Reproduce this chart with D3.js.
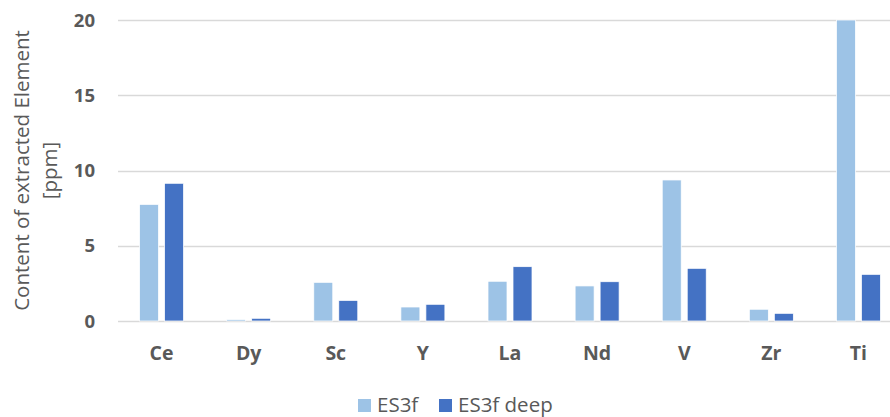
<!DOCTYPE html>
<html lang="en">
<head>
<meta charset="UTF-8">
<title>Extracted elements</title>
<script src="https://cdn.jsdelivr.net/npm/d3@7/dist/d3.min.js"></script>
<style>
    * { margin: 0; padding: 0; }
    body { background: #fff; }
    text { font-family: "Open Sans", sans-serif; fill: #595959; }
</style>
</head>
<body>
<script>
    const width = 890
    const height = 417

    // data
    const categories = ['Ce', 'Dy', 'Sc', 'Y', 'La', 'Nd', 'V', 'Zr', 'Ti']
    const seriesNames = ['ES3f', 'ES3f deep']
    const es3f = [7.75, 0.1, 2.57, 0.93, 2.64, 2.33, 9.37, 0.78, 20]
    const es3fDeep = [9.15, 0.18, 1.37, 1.11, 3.61, 2.61, 3.5, 0.51, 3.1]
    const yTicks = [0, 5, 10, 15, 20]
    const colors = ['#9DC3E6', '#4472C4']

    const padding = { left: 118, right: -12, top: 20, bottom: 96 }
    const plotW = width - padding.left - padding.right
    const plotH = height - padding.top - padding.bottom

    const svg = d3.select('body').append('svg')
        .attr('width', width)
        .attr('height', height)

    const xScale = d3.scaleBand()
        .domain(categories)
        .range([0, plotW])

    const groupW = 44
    const x1 = d3.scaleBand()
        .domain(seriesNames)
        .range([0, groupW])
        .paddingInner(0.24)

    const yScale = d3.scaleLinear()
        .domain([0, 20])
        .range([plotH, 0])

    const g = svg.append('g')
        .attr('transform', 'translate(' + padding.left + ',' + padding.top + ')')

    // gridlines
    g.append('g')
        .selectAll('line')
        .data(yTicks)
        .enter()
        .append('line')
        .attr('x1', 0)
        .attr('x2', plotW)
        .attr('y1', d => Math.round(yScale(d)) + 0.5)
        .attr('y2', d => Math.round(yScale(d)) + 0.5)
        .attr('stroke', '#D9D9D9')
        .attr('stroke-width', 1.3)

    // y tick labels
    g.append('g')
        .selectAll('text')
        .data(yTicks)
        .enter()
        .append('text')
        .attr('x', -23)
        .attr('y', d => yScale(d))
        .attr('dy', '0.36em')
        .attr('text-anchor', 'end')
        .style('font-size', '18.5px')
        .style('font-weight', 'bold')
        .text(d => d)

    // bars
    const series = [es3f, es3fDeep]
    series.forEach((vals, si) => {
        g.append('g')
            .selectAll('rect')
            .data(vals)
            .enter()
            .append('rect')
            .attr('x', (d, i) => xScale(categories[i]) + xScale.bandwidth() / 2 - groupW / 2 + x1(seriesNames[si]))
            .attr('y', d => yScale(Math.min(d, 20)))
            .attr('width', x1.bandwidth())
            .attr('height', d => plotH - yScale(Math.min(d, 20)))
            .attr('fill', colors[si])
            .attr('stroke', '#fff')
            .attr('stroke-width', 0.75)
    })

    // x category labels
    g.append('g')
        .selectAll('text')
        .data(categories)
        .enter()
        .append('text')
        .attr('x', d => xScale(d) + xScale.bandwidth() / 2)
        .attr('y', plotH + 39)
        .attr('text-anchor', 'middle')
        .style('font-size', '19.5px')
        .style('font-weight', 'bold')
        .text(d => d)

    // y axis title
    const title = svg.append('text')
        .attr('transform', 'translate(29,' + (padding.top + plotH / 2) + ') rotate(-90)')
        .attr('text-anchor', 'middle')
        .style('font-size', '20.5px')
    title.append('tspan').attr('x', 0).attr('y', 0).text('Content of extracted Element')
    title.append('tspan').attr('x', 0).attr('y', 28).text('[ppm]')

    // legend
    const legendX = [358, 439]
    const legend = svg.append('g')
    seriesNames.forEach((name, i) => {
        legend.append('rect')
            .attr('x', legendX[i])
            .attr('y', 399)
            .attr('width', 13)
            .attr('height', 13)
            .attr('fill', colors[i])
        legend.append('text')
            .attr('x', legendX[i] + 19)
            .attr('y', 412)
            .style('font-size', '20.5px')
            .text(name)
    })
</script>
</body>
</html>
